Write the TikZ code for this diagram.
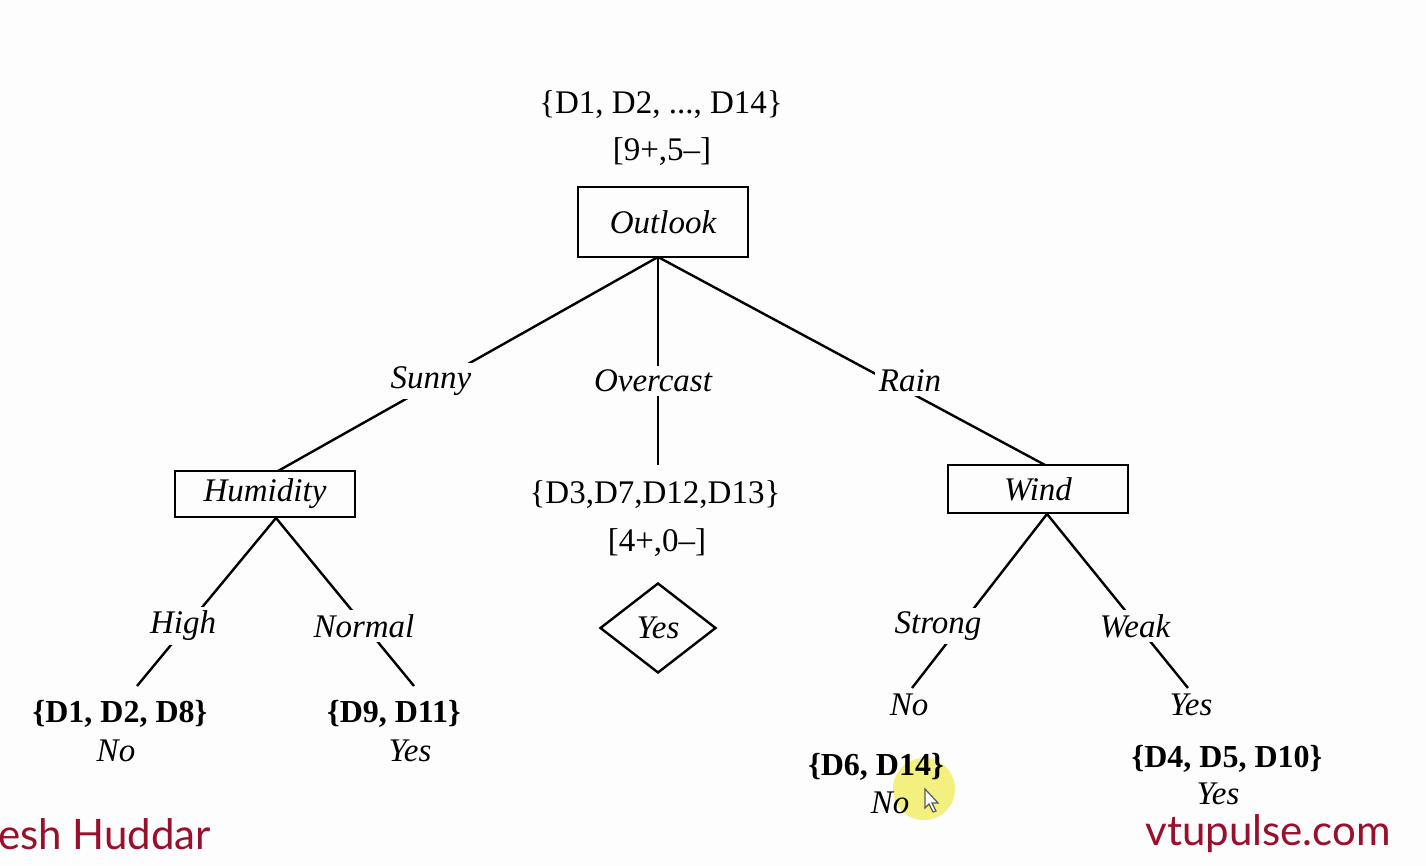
\documentclass[tikz,border=0pt]{standalone}
\usepackage{fontspec}
\setmainfont{Liberation Serif}
\newfontfamily\markfont{Lato}
\usetikzlibrary{shapes.geometric}
\definecolor{paper}{HTML}{FCFDFC}
\definecolor{markred}{HTML}{9A0F2C}
\definecolor{glow}{HTML}{F3EE6A}
\begin{document}
\begin{tikzpicture}[x=0.5pt,y=-0.5pt,line width=1.2pt,
  every node/.style={font=\fontsize{16.5}{19}\selectfont},
  attrbox/.style={draw,rectangle,minimum width=85pt,minimum height=23pt,inner sep=0pt,font=\fontsize{16.5}{19}\selectfont\itshape},
  setlbl/.style={inner sep=1pt},
  boldset/.style={inner sep=1pt,font=\fontsize{16}{19}\selectfont\bfseries},
  edgelbl/.style={fill=paper,inner sep=2pt,font=\fontsize{16.5}{19}\selectfont\itshape},
  leafcls/.style={inner sep=1pt,font=\fontsize{16.5}{19}\selectfont\itshape},
  brandtext/.style={text=markred,font=\fontsize{21}{25}\selectfont\markfont}]
  % canvas
  \fill[paper] (0,0) rectangle (1426,866);
  \useasboundingbox (0,0) rectangle (1426,866);

  % root
  \node[setlbl] (rootset) at (661,105) {\{D1, D2, ..., D14\}};
  \node[setlbl] (rootcnt) at (662,152) {[9+,5--]};
  \node[attrbox,minimum height=35pt] (outlook) at (663,222) {Outlook};
  \coordinate (oa) at (658,257);

  % second level
  \node[attrbox,minimum width=90pt] (humidity) at (265,494) {Humidity};
  \node[attrbox,minimum width=90pt,minimum height=24pt] (wind) at (1038,489) {Wind};
  \coordinate (humtop) at (278,471);
  \coordinate (windtop) at (1045,465);
  \coordinate (ovend) at (658,465);
  \node[setlbl] (ovset) at (655,495) {\{D3,D7,D12,D13\}};
  \node[setlbl] (ovcnt) at (657,543) {[4+,0--]};
  \node[draw,diamond,minimum width=58pt,minimum height=45pt,inner sep=0pt,aspect=1.3,
        font=\fontsize{16.5}{19}\selectfont\itshape] (yes) at (658,628) {Yes};

  \draw (oa) -- (humtop);
  \draw (oa) -- (ovend);
  \draw (oa) -- (windtop);
  \node[edgelbl] (sunny) at (431,381) {Sunny};
  \node[edgelbl] (overcast) at (653,381) {Overcast};
  \node[edgelbl] (rain) at (910,381) {Rain};

  % humidity branch
  \coordinate (hb) at (276,518);
  \coordinate (highend) at (137,686);
  \coordinate (normend) at (414,686);
  \draw (hb) -- (highend);
  \draw (hb) -- (normend);
  \node[edgelbl] (high) at (183,626) {High};
  \node[edgelbl] (normal) at (364,626) {Normal};
  \node[boldset] (hiset) at (120,714) {\{D1, D2, D8\}};
  \node[leafcls] (hino) at (116,751) {No};
  \node[boldset] (noset) at (394,714) {\{D9, D11\}};
  \node[leafcls] (noyes) at (410,751) {Yes};

  % wind branch
  \coordinate (wb) at (1047,514);
  \coordinate (strend) at (912,688);
  \coordinate (weakend) at (1188,688);
  \draw (wb) -- (strend);
  \draw (wb) -- (weakend);
  \node[edgelbl] (strong) at (938,626) {Strong};
  \node[edgelbl] (weak) at (1135,626) {Weak};
  \node[leafcls] (stno) at (909,705) {No};
  \node[leafcls] (wkyes) at (1191,705) {Yes};

  % pointer highlight
  \fill[glow,opacity=0.85] (924,789) circle (31);
  \node[boldset] (stset) at (876,767) {\{D6, D14\}};
  \node[leafcls] (stcls) at (890,803) {No};
  \draw[line width=0.6pt,fill=white,draw=gray!70!black]
    (925,789) -- (925,808) -- (929,804) -- (933,812) -- (936,811) -- (932,803) -- (938,803) -- cycle;
  \node[boldset] (wkset) at (1227,759) {\{D4, D5, D10\}};
  \node[leafcls] (wkcls) at (1218,794) {Yes};

  % channel marks
  \node[brandtext,anchor=west,inner sep=0pt] (author) at (-3,834) {esh Huddar};
  \node[brandtext,inner sep=0pt] (site) at (1268,834) {vtupulse.com};
\end{tikzpicture}
\end{document}
